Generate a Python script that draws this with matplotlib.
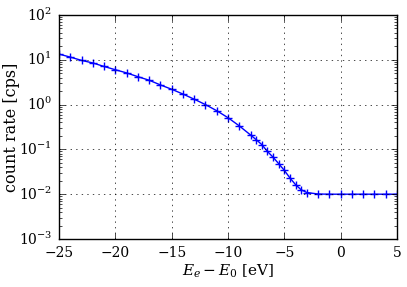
import matplotlib
matplotlib.use("Agg")
import matplotlib.pyplot as plt
import numpy as np

plt.style.use('classic')
plt.rcParams['font.family'] = ['DejaVu Serif']
plt.rcParams['mathtext.fontset'] = 'dejavuserif'

energy = [-25, -24, -23, -22, -21, -20, -19, -18, -17, -16, -15, -14, -13, -12,
          -11, -10, -9, -8, -7.5, -7, -6.5, -6, -5.5, -5, -4.5, -4, -3.5, -3,
          -2, -1, 0, 1, 2, 3, 4, 5]
rate = [13.4, 11.5, 9.7, 8.5, 7.1, 6.0, 5.1, 4.2, 3.5, 2.75, 2.2, 1.72, 1.32, 1.0,
        0.73, 0.51, 0.335, 0.21, 0.165, 0.128, 0.09, 0.067, 0.048, 0.034, 0.023,
        0.0163, 0.0125, 0.0109, 0.0101, 0.01, 0.01, 0.01, 0.01, 0.01, 0.01, 0.01]

fig = plt.figure(figsize=(4.07, 2.87), dpi=100, facecolor='white')
ax = fig.add_axes([59/407, 48/287, 338/407, 224/287])
ax.semilogy(energy, rate, 'b-', marker='+', markersize=6, markeredgewidth=1)
ax.set_xlim(-25, 5)
ax.set_ylim(1e-3, 1e2)
ax.grid(True)
ax.set_xlabel(r'$E_e - E_0$ [eV]', fontsize=11)
ax.set_ylabel('count rate [cps]', fontsize=11.5)
ax.yaxis.set_label_coords(-0.115, 0.5)
ax.xaxis.set_label_coords(0.5, -0.105)
ax.tick_params(labelsize=10, pad=5)
fig.savefig('out.png', dpi=100, facecolor='white')
